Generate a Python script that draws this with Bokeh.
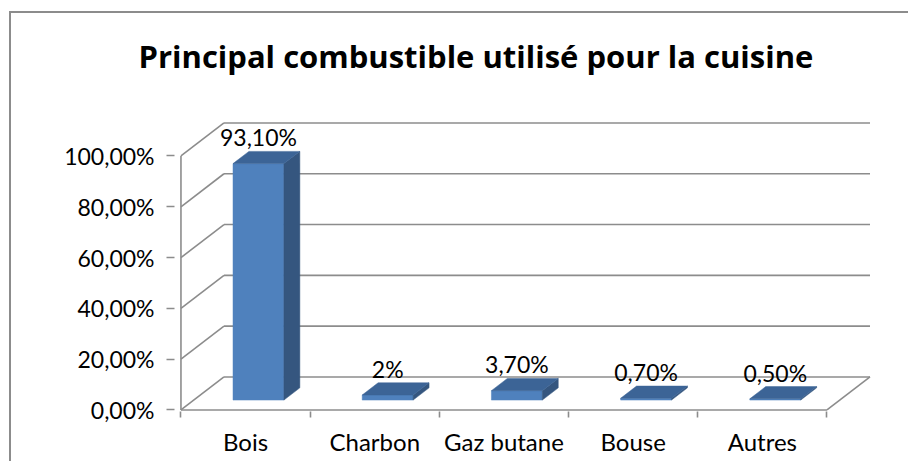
from bokeh.plotting import figure
from bokeh.models import FixedTicker, Range1d, LinearAxis
from bokeh.core.properties import value
from bokeh.embed import file_html
from bokeh.resources import INLINE

# ---- data ----
categories = ["Bois", "Charbon", "Gaz butane", "Bouse", "Autres"]
values = [93.1, 2.0, 3.7, 0.7, 0.5]
value_labels = ["93,10%", "2%", "3,70%", "0,70%", "0,50%"]
y_ticks = [0, 20, 40, 60, 80, 100]
y_tick_labels = ["0,00%", "20,00%", "40,00%", "60,00%", "80,00%", "100,00%"]
title_text = "Principal combustible utilisé pour la cuisine"

# ---- 3D geometry (in data units) ----
DX, DY = 0.333, 13.0      # depth offset of the back wall
BAR_FRONT = 0.30          # depth fraction of the bar front face
BAR_DEPTH = 0.37          # depth fraction of the bar body
BAR_W = 0.394             # bar width in category units
LABEL_GAP = 5.5

FONT = "Lato"
GRID = "#8c8c8c"
C_FRONT, C_SIDE, C_TOP = "#4f81bd", "#35567f", "#3c6496"

n = len(categories)
Y_START = -0.6
FRAME_H = 316
PX_PER_Y = 2.54

p = figure(frame_width=730, frame_height=FRAME_H,
           x_range=Range1d(-0.05, 5.6),
           y_range=Range1d(Y_START, Y_START + FRAME_H / PX_PER_Y),
           x_axis_type=None, y_axis_type=None,
           output_backend="svg", toolbar_location=None,
           min_border_left=163, min_border_right=4,
           min_border_top=80, min_border_bottom=50,
           title=title_text)
p.outline_line_color = None
p.background_fill_color = "white"
p.border_fill_color = "white"
p.styles = {"margin-left": "9px", "margin-top": "11px",
            "border-left": "2px solid #8c8c8c", "border-top": "2px solid #8c8c8c"}

p.title.align = "left"
p.title.offset = -36
p.title.text_font = "Open Sans"
p.title.text_font_size = "31px"
p.title.text_font_style = "bold"
p.title.text_color = "black"
p.title.standoff = 38

# ---- walls and floor ----
x0, y0, x1, y1 = [], [], [], []
for t in y_ticks:
    # back wall gridline
    x0.append(DX); y0.append(t + DY); x1.append(n + DX); y1.append(t + DY)
    # side wall diagonal
    x0.append(0); y0.append(t); x1.append(DX); y1.append(t + DY)
# front vertical edge
x0.append(0); y0.append(y_ticks[0]); x1.append(0); y1.append(y_ticks[-1])
# floor front edge and right edge
x0.append(0); y0.append(0); x1.append(n); y1.append(0)
x0.append(n); y0.append(0); x1.append(n + DX); y1.append(DY)
p.segment(x0=x0, y0=y0, x1=x1, y1=y1, line_color=GRID, line_width=1.6)

# ---- bars ----
lefts, rights, bottoms, tops = [], [], [], []
side_xs, side_ys, top_xs, top_ys = [], [], [], []
lab_x, lab_y = [], []
bdx, bdy = BAR_DEPTH * DX, BAR_DEPTH * DY
for i, v in enumerate(values):
    cx = i + 0.5 + BAR_FRONT * DX
    l, r = cx - BAR_W / 2, cx + BAR_W / 2
    b = BAR_FRONT * DY
    t = b + v
    lefts.append(l); rights.append(r); bottoms.append(b); tops.append(t)
    side_xs.append([r, r + bdx, r + bdx, r])
    side_ys.append([b, b + bdy, t + bdy, t])
    top_xs.append([l, r, r + bdx, l + bdx])
    top_ys.append([t, t, t + bdy, t + bdy])
    lab_x.append(cx)
    lab_y.append(t + bdy + LABEL_GAP)

p.quad(left=lefts, right=rights, bottom=bottoms, top=tops,
       fill_color=C_FRONT, line_color=C_FRONT, line_width=0.5)
p.patches(xs=side_xs, ys=side_ys, fill_color=C_SIDE, line_color=C_SIDE, line_width=0.5)
p.patches(xs=top_xs, ys=top_ys, fill_color=C_TOP, line_color=C_TOP, line_width=0.5)

p.text(x=lab_x, y=lab_y, text=value_labels, text_align="center", text_baseline="middle",
       text_font=value(FONT), text_font_size="23px", text_color="black")

# ---- axes ----
yaxis = LinearAxis(ticker=FixedTicker(ticks=y_ticks, minor_ticks=[]),
                   major_label_overrides=dict(zip(y_ticks, y_tick_labels)),
                   axis_line_color=None, major_tick_out=8, major_tick_in=0,
                   major_tick_line_color=GRID, major_tick_line_width=1.6,
                   minor_tick_line_color=None, major_label_standoff=12,
                   major_label_text_font=FONT, major_label_text_font_size="23px",
                   major_label_text_color="black")
p.add_layout(yaxis, "left")

centers = [i + 0.5 for i in range(n)]
xaxis = LinearAxis(ticker=FixedTicker(ticks=centers, minor_ticks=list(range(n + 1))),
                   major_label_overrides=dict(zip(centers, categories)),
                   axis_line_color=None, major_tick_out=0, major_tick_in=0,
                   major_tick_line_color=None,
                   minor_tick_out=6, minor_tick_in=0,
                   minor_tick_line_color=GRID, minor_tick_line_width=1.6,
                   major_label_standoff=9,
                   major_label_text_font=FONT, major_label_text_font_size="24px",
                   major_label_text_color="black")
p.add_layout(xaxis, "below")

open("out.html", "w").write(file_html(p, INLINE))
